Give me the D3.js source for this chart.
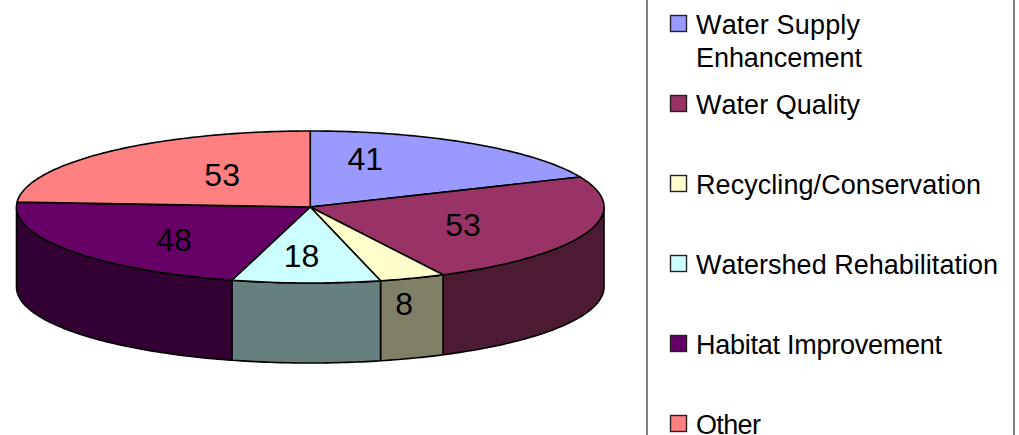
<!DOCTYPE html>
<html>
<head>
<meta charset="utf-8">
<script src="https://cdn.jsdelivr.net/npm/d3@7"></script>
<style>
  html, body { margin: 0; padding: 0; background: #fff; overflow: hidden; }
  text { font-family: "Liberation Sans", Arial, sans-serif; fill: #000; font-kerning: none; }
</style>
</head>
<body>
<div id="chart"></div>
<script>
const categories = ["Water Supply Enhancement", "Water Quality", "Recycling/Conservation", "Watershed Rehabilitation", "Habitat Improvement", "Other"];
const legendLines = [["Water Supply", "Enhancement"], ["Water Quality"], ["Recycling/Conservation"], ["Watershed Rehabilitation"], ["Habitat Improvement"], ["Other"]];
const legendWidths = [[164, 166], [164], [285], [302], [246], [65]];
const values = [41, 53, 8, 18, 48, 53];
const topColors = ["#9999ff", "#993366", "#ffffcc", "#ccffff", "#660066", "#ff8080"];
const wallColors = ["#4d4d80", "#4d1a33", "#808066", "#668080", "#330033", "#804040"];
// where the value labels sit, in units of the pie radius
const labelX = [0.187, 0.52, 0.32, -0.03, -0.464, -0.30];
const labelY = [-0.63, 0.23, 1.28, 0.64, 0.43, -0.43];

const width = 1019, height = 435;
const depth = 80;

const svg = d3.select("#chart").append("svg")
  .attr("width", width)
  .attr("height", height)
  .style("display", "block");

const x = d3.scaleLinear().domain([-1, 1]).range([16.5, 604]);
const y = d3.scaleLinear().domain([-1, 1]).range([131, 283]);

const pie = d3.pie().value(d => d).sort(null);
const slices = pie(values);

const rim = a => [x(Math.sin(a)), y(-Math.cos(a))];
const line = d3.line();
const arcPoints = (a0, a1) => {
  const n = Math.max(2, Math.ceil((a1 - a0) * 60));
  return d3.range(n + 1).map(i => rim(a0 + (a1 - a0) * i / n));
};

// side walls first, only the part of each slice that faces the viewer
const g = svg.append("g")
  .attr("stroke", "#000")
  .attr("stroke-width", 1.6)
  .attr("stroke-linejoin", "round");

slices.forEach((s, i) => {
  const a0 = Math.max(s.startAngle, Math.PI / 2);
  const a1 = Math.min(s.endAngle, Math.PI * 1.5);
  if (a0 >= a1) return;
  const top = arcPoints(a0, a1);
  const bottom = top.map(p => [p[0], p[1] + depth]).reverse();
  g.append("path")
    .attr("d", line(top.concat(bottom)) + "Z")
    .attr("fill", wallColors[i]);
});

g.selectAll(".top")
  .data(slices)
  .enter()
  .append("path")
  .attr("class", "top")
  .attr("fill", (d, i) => topColors[i])
  .attr("d", d => line([[x(0), y(0)]].concat(arcPoints(d.startAngle, d.endAngle))) + "Z");

svg.selectAll(".value")
  .data(values)
  .enter()
  .append("text")
  .attr("class", "value")
  .attr("x", (d, i) => x(labelX[i]))
  .attr("y", (d, i) => y(labelY[i]))
  .attr("dy", "0.35em")
  .attr("text-anchor", "middle")
  .attr("font-size", 32)
  .text(d => d);

// legend box, runs off the top and bottom of the picture
svg.append("rect")
  .attr("x", 647)
  .attr("y", -5)
  .attr("width", 367)
  .attr("height", height + 10)
  .attr("fill", "none")
  .attr("stroke", "#808080")
  .attr("stroke-width", 2);

const legendY = d3.scalePoint().domain(categories).range([24, 424]);

const legend = svg.selectAll(".legend")
  .data(categories)
  .enter()
  .append("g")
  .attr("class", "legend")
  .attr("transform", d => `translate(0,${legendY(d)})`);

legend.append("rect")
  .attr("x", 670.5)
  .attr("y", -8.5)
  .attr("width", 16)
  .attr("height", 16)
  .attr("fill", (d, i) => topColors[i])
  .attr("stroke", "#222")
  .attr("stroke-width", 1.4);

legend.each(function (d, i) {
  legendLines[i].forEach((t, j) => {
    d3.select(this).append("text")
      .attr("x", 696)
      .attr("y", 10 + j * 33)
      .attr("font-size", 27)
      .attr("textLength", legendWidths[i][j])
      .attr("lengthAdjust", "spacing")
      .text(t);
  });
});
</script>
</body>
</html>
